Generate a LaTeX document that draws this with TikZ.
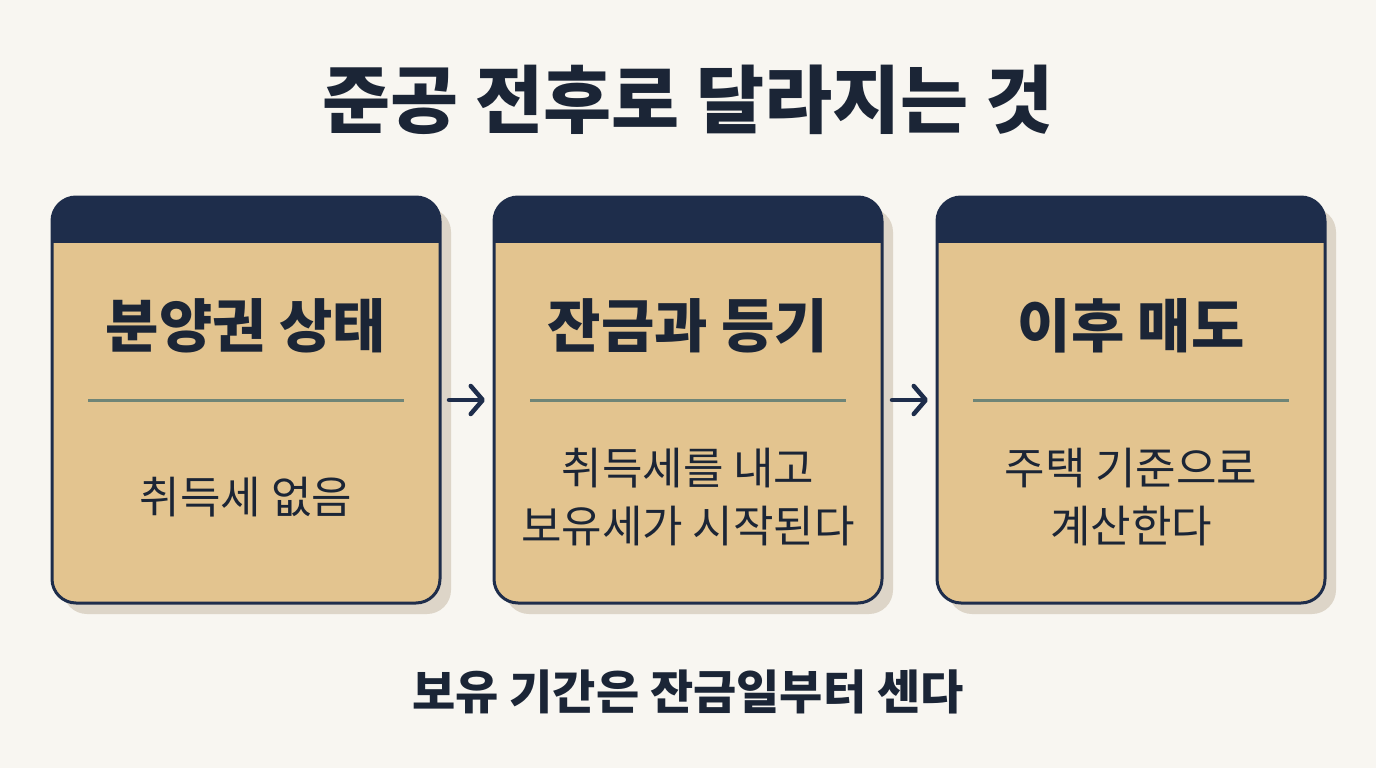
\documentclass[tikz,border=0pt]{standalone}
\usepackage{fontspec}
\setmainfont{Noto Sans CJK KR}
\usetikzlibrary{arrows.meta,shadows}
\definecolor{bg}{HTML}{F8F6F1}
\definecolor{navy}{HTML}{1E2D4B}
\definecolor{tan}{HTML}{E3C48F}
\definecolor{shadowc}{HTML}{DDD5C8}
\definecolor{rule}{HTML}{6F8577}
\definecolor{ink}{HTML}{1B2536}
\tikzset{
  card/.style={draw=navy, line width=3pt, fill=tan, rounded corners=24pt,
    minimum width=388pt, minimum height=406pt, inner sep=0pt,
    drop shadow={shadow xshift=11pt, shadow yshift=-11pt, fill=shadowc, opacity=1},
    path picture={\fill[navy, sharp corners] (path picture bounding box.north west) rectangle ([yshift=-46pt]path picture bounding box.north east);}},
  cardtitle/.style={font=\bfseries\fontsize{58}{66}\selectfont, text=ink},
  cardbody/.style={font=\fontsize{44}{58}\selectfont, text=ink, align=center},
  divider/.style={draw=rule, line width=3pt},
  flow/.style={draw=navy, line width=4.5pt, line cap=round, -{Straight Barb[length=12pt,width=28pt,line width=4.5pt,round]}},
}
\begin{document}
\begin{tikzpicture}[x=1pt,y=-1pt]
\fill[bg] (0,0) rectangle (1376,768);
\useasboundingbox (0,0) rectangle (1376,768);
\node[font=\bfseries\fontsize{74}{80}\selectfont, text=ink] (title) at (688,100) {준공 전후로 달라지는 것};
\node[card] (b1) at (246,400) {};
\node[card] (b2) at (688,400) {};
\node[card] (b3) at (1131,400) {};
\node[cardtitle] (t1) at (246,326) {분양권 상태};
\node[cardtitle] (t2) at (688,326) {잔금과 등기};
\node[cardtitle] (t3) at (1131,326) {이후 매도};
\coordinate (d1a) at (88,400); \coordinate (d1b) at (404,400);
\coordinate (d2a) at (530,400); \coordinate (d2b) at (846,400);
\coordinate (d3a) at (973,400); \coordinate (d3b) at (1289,400);
\draw[divider] (d1a) -- (d1b);
\draw[divider] (d2a) -- (d2b);
\draw[divider] (d3a) -- (d3b);
\node[cardbody] (c1) at (246,497) {취득세 없음};
\node[cardbody] (c2) at (688,497) {취득세를 내고\\보유세가 시작된다};
\node[cardbody] (c3) at (1131,497) {주택 기준으로\\계산한다};
\coordinate (a1s) at (449,400); \coordinate (a1e) at (485,400);
\coordinate (a2s) at (892,400); \coordinate (a2e) at (928,400);
\draw[flow] (a1s) -- (a1e);
\draw[flow] (a2s) -- (a2e);
\node[font=\bfseries\fontsize{47}{54}\selectfont, text=ink] (foot) at (688,692) {보유 기간은 잔금일부터 센다};
\end{tikzpicture}
\end{document}
